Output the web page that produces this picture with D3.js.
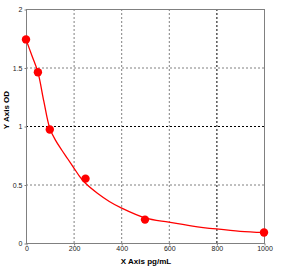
<html>
<head>
<script src="https://d3js.org/d3.v7.min.js"></script>
<style>
  body { margin: 0; background: #fff; }
  text { font-family: "Liberation Sans", Arial, sans-serif; }
</style>
</head>
<body>
<svg id="chart" width="296" height="272"></svg>
<script>
// standard points
const conc = [0, 50, 100, 250, 500, 1000];
const od = [1.74, 1.46, 0.97, 0.55, 0.20, 0.09];

// fitted curve
const fitX = [0, 25, 50, 75, 100, 125, 150, 175, 200, 225, 250, 300, 350, 400, 500, 600, 700, 800, 900, 1000];
const fitY = [1.74, 1.60, 1.46, 1.21, 0.98, 0.875, 0.795, 0.72, 0.645, 0.57, 0.51, 0.425, 0.355, 0.30, 0.215, 0.178, 0.145, 0.12, 0.10, 0.09];

const xTicks = [0, 200, 400, 600, 800, 1000];
const yTicks = [0, 0.5, 1, 1.5, 2];

const svg = d3.select('svg#chart');
const mLeft = 26, mRight = 264, mTop = 9, mBottom = 243;

const x = d3.scaleLinear().domain([0, 1000]).range([mLeft, mRight]);
const y = d3.scaleLinear().domain([0, 2]).range([mBottom, mTop]);

// grid
svg.selectAll('line.vgrid').data(xTicks.filter(d => d > 0 && d < 1000))
  .join('line')
  .attr('x1', d => x(d) + 0.5).attr('x2', d => x(d) + 0.5)
  .attr('y1', mTop).attr('y2', mBottom)
  .attr('stroke', d => d === 800 ? '#000' : '#808080')
  .attr('stroke-dasharray', '2,2');

svg.selectAll('line.hgrid').data(yTicks.filter(d => d > 0 && d < 2))
  .join('line')
  .attr('y1', d => y(d) + 0.5).attr('y2', d => y(d) + 0.5)
  .attr('x1', mLeft).attr('x2', mRight)
  .attr('stroke', d => d === 1 ? '#000' : '#808080')
  .attr('stroke-dasharray', '2,2');

// frame
svg.append('rect')
  .attr('x', mLeft + 0.5).attr('y', mTop + 0.5)
  .attr('width', mRight - mLeft).attr('height', mBottom - mTop)
  .attr('fill', 'none').attr('stroke', '#808080');

// axes
const xAxis = svg.append('g').attr('transform', `translate(0.5,${mBottom + 0.5})`)
  .call(d3.axisBottom(x).tickValues(xTicks).tickSize(2).tickSizeOuter(0).tickPadding(1)
    .tickFormat(d3.format('')));
const yAxis = svg.append('g').attr('transform', `translate(${mLeft + 0.5},0.5)`)
  .call(d3.axisLeft(y).tickValues(yTicks).tickSize(2).tickSizeOuter(0).tickPadding(2)
    .tickFormat(d3.format('')));
[xAxis, yAxis].forEach(g => {
  g.select('.domain').remove();
  g.selectAll('line').attr('stroke', '#808080');
  g.selectAll('text').attr('fill', '#222').style('font-size', '7px')
    .style('font-family', '"Liberation Sans", Arial, sans-serif');
});

// fit curve
svg.append('path')
  .datum(fitX.map((v, i) => [v, fitY[i]]))
  .attr('fill', 'none')
  .attr('stroke', '#ff0000')
  .attr('stroke-width', 1.3)
  .attr('d', d3.line().x(d => x(d[0])).y(d => y(d[1])).curve(d3.curveCatmullRom));

// points
svg.selectAll('circle').data(conc)
  .join('circle')
  .attr('cx', (d) => x(d))
  .attr('cy', (d, i) => y(od[i]))
  .attr('r', 4.2)
  .attr('fill', '#ff0000');

// labels
svg.append('text')
  .attr('x', 146).attr('y', 264)
  .attr('text-anchor', 'middle')
  .style('font-size', '8px').style('font-weight', 'bold')
  .text('X Axis pg/mL');

svg.append('text')
  .attr('transform', 'translate(9,110) rotate(-90)')
  .attr('text-anchor', 'middle')
  .style('font-size', '8px').style('font-weight', 'bold')
  .text('Y Axis OD');
</script>
</body>
</html>
